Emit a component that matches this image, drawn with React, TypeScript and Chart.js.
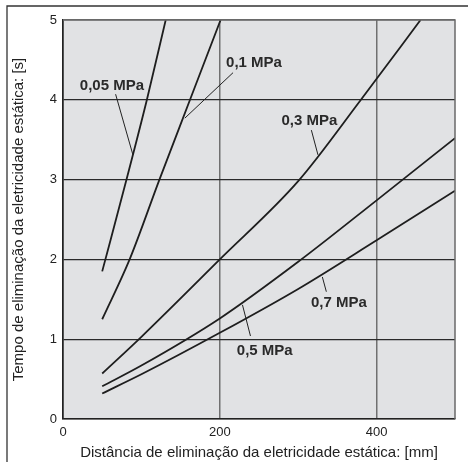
import React, { useEffect, useRef } from "react";
import { Chart, registerables } from "chart.js";

Chart.register(...registerables);

// ---- data ----
const seriesNames = ["0,05 MPa", "0,1 MPa", "0,3 MPa", "0,5 MPa", "0,7 MPa"];

const x005 = [50, 81, 107, 131];
const y005 = [1.85, 3.0, 4.0, 5.0];

const x01 = [50, 85, 123, 162, 201];
const y01 = [1.25, 2.0, 3.0, 4.0, 5.0];

const x03 = [50, 100, 200, 300, 380, 456];
const y03 = [0.57, 1.03, 2.0, 2.98, 4.0, 5.0];

const x05 = [50, 100, 200, 300, 400, 500];
const y05 = [0.41, 0.67, 1.26, 1.97, 2.74, 3.52];

const x07 = [50, 100, 200, 300, 400, 500];
const y07 = [0.32, 0.56, 1.08, 1.63, 2.24, 2.86];

const xTickValues = [0, 200, 400];
const yTickValues = [0, 1, 2, 3, 4, 5];

const xTitle = "Distância de eliminação da eletricidade estática: [mm]";
const yTitle = "Tempo de eliminação da eletricidade estática: [s]";

// label annotations, in data units
const labelAt = [
  [62.4, 4.17],
  [243.6, 4.46],
  [314.3, 3.73],
  [257.3, 0.856],
  [351.8, 1.46],
];
const leaderFrom = [
  [67.1, 4.07],
  [216.9, 4.34],
  [316.8, 3.62],
  [239.1, 1.04],
  [335.9, 1.595],
];
const leaderTo = [
  [89.2, 3.31],
  [155.4, 3.77],
  [325.2, 3.31],
  [228.9, 1.43],
  [330.8, 1.78],
];

const xs = [x005, x01, x03, x05, x07];
const ys = [y005, y01, y03, y05, y07];

const FONT = "'Liberation Sans', Arial, sans-serif";

const decorPlugin = {
  id: "decor",
  beforeDraw(chart: any) {
    const { ctx, chartArea: a } = chart;
    ctx.save();
    ctx.fillStyle = "#e1e2e4";
    ctx.fillRect(a.left, a.top, a.right - a.left, a.bottom - a.top);
    // outer frame (top & left)
    ctx.strokeStyle = "#333";
    ctx.lineWidth = 1.3;
    ctx.beginPath();
    ctx.moveTo(7, chart.height);
    ctx.lineTo(7, 6);
    ctx.lineTo(chart.width, 6);
    ctx.stroke();
    ctx.restore();
  },
  afterDraw(chart: any) {
    const { ctx, chartArea: a } = chart;
    const xS = chart.scales.x;
    const yS = chart.scales.y;
    ctx.save();
    // right & top border
    ctx.strokeStyle = "#6a6a6a";
    ctx.lineWidth = 1.5;
    ctx.beginPath();
    ctx.moveTo(a.left, a.top);
    ctx.lineTo(a.right, a.top);
    ctx.lineTo(a.right, a.bottom);
    ctx.stroke();
    // leaders
    ctx.strokeStyle = "#222";
    ctx.lineWidth = 1;
    for (let i = 0; i < seriesNames.length; i++) {
      ctx.beginPath();
      ctx.moveTo(xS.getPixelForValue(leaderFrom[i][0]), yS.getPixelForValue(leaderFrom[i][1]));
      ctx.lineTo(xS.getPixelForValue(leaderTo[i][0]), yS.getPixelForValue(leaderTo[i][1]));
      ctx.stroke();
    }
    // labels
    ctx.fillStyle = "#2a2a2a";
    ctx.font = `bold 15px ${FONT}`;
    ctx.textAlign = "center";
    ctx.textBaseline = "middle";
    for (let i = 0; i < seriesNames.length; i++) {
      ctx.fillText(
        seriesNames[i],
        xS.getPixelForValue(labelAt[i][0]),
        yS.getPixelForValue(labelAt[i][1])
      );
    }
    ctx.restore();
  },
};

export default function App() {
  const ref = useRef<HTMLCanvasElement>(null);
  useEffect(() => {
    if (!ref.current) return;
    const chart = new Chart(ref.current, {
      type: "line",
      data: {
        datasets: seriesNames.map((name, i) => ({
          label: name,
          data: xs[i].map((x, j) => ({ x, y: ys[i][j] })),
          borderColor: "#1e1e1e",
          borderWidth: 1.8,
          pointRadius: 0,
          fill: false,
          tension: 0,
          cubicInterpolationMode: "monotone" as const,
        })),
      },
      options: {
        animation: false,
        responsive: false,
        events: [],
        layout: { padding: { top: 20, right: 13, left: 0, bottom: 0 } },
        plugins: {
          legend: { display: false },
          tooltip: { enabled: false },
        },
        scales: {
          x: {
            type: "linear",
            min: 0,
            max: 500,
            afterBuildTicks: (s: any) => {
              s.ticks = xTickValues.map((v) => ({ value: v }));
            },
            afterFit: (s: any) => {
              s.height = 43;
            },
            grid: {
              drawTicks: false,
              color: (c: any) => (c.tick && c.tick.value === 0 ? "#222" : "#707070"),
              lineWidth: 1.5,
            },
            border: { color: "#222", width: 1.5 },
            ticks: {
              padding: 6,
              color: "#222",
              font: { family: FONT, size: 13 },
              maxRotation: 0,
            },
            title: {
              display: true,
              text: xTitle,
              color: "#222",
              font: { family: FONT, size: 15 },
              padding: { top: 0, bottom: 0 },
            },
          },
          y: {
            type: "linear",
            min: 0,
            max: 5,
            afterBuildTicks: (s: any) => {
              s.ticks = yTickValues.map((v) => ({ value: v }));
            },
            afterFit: (s: any) => {
              s.width = 63;
            },
            grid: {
              drawTicks: false,
              color: (c: any) => (c.tick && c.tick.value === 5 ? "#6a6a6a" : "#2a2a2a"),
              lineWidth: 1.2,
            },
            border: { color: "#222", width: 1.5 },
            ticks: {
              padding: 6,
              color: "#222",
              font: { family: FONT, size: 13 },
            },
            title: {
              display: true,
              text: yTitle,
              color: "#222",
              font: { family: FONT, size: 15 },
              padding: { top: 10, bottom: 0 },
            },
          },
        },
      },
      plugins: [decorPlugin],
    });
    return () => chart.destroy();
  }, []);
  return (
    <div style={{ position: "absolute", left: 0, top: 0, width: 468, height: 462 }}>
      <canvas ref={ref} width={468} height={462} />
    </div>
  );
}
